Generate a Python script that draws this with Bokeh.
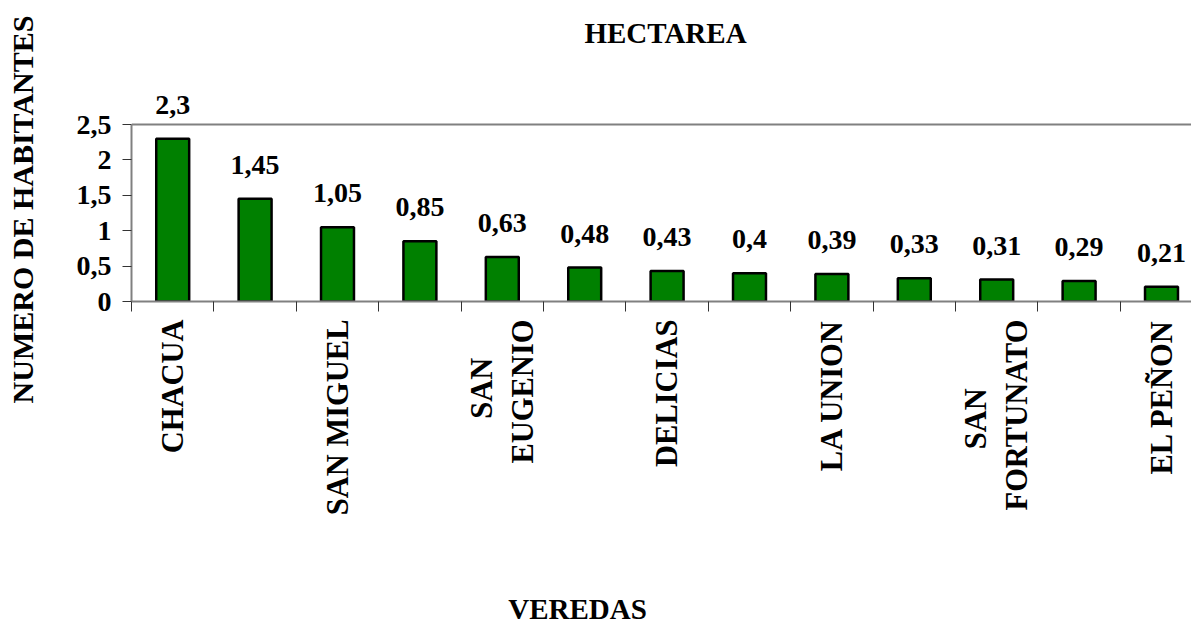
from bokeh.plotting import figure
from bokeh.models import (ColumnDataSource, Range1d, FixedTicker, LabelSet, Label, Span)
from bokeh.layouts import column, row
from bokeh.embed import file_html
from bokeh.resources import INLINE
import math

# ---- data ----
NB = "\u00a0"
categories = ["CHACUA", "", "SAN MIGUEL", "", "SAN" + NB * 5 + "\nEUGENIO", "", "DELICIAS", "",
              "LA UNION", "", "SAN" + NB * 9 + "\nFORTUNATO", "", "EL PEÑON"]
values = [2.3, 1.45, 1.05, 0.85, 0.63, 0.48, 0.43, 0.4, 0.39, 0.33, 0.31, 0.29, 0.21]
y_ticks = [0, 0.5, 1, 1.5, 2, 2.5]
y_tick_labels = ["0", "0,5", "1", "1,5", "2", "2,5"]
title_text = "HECTAREA"
y_title = "NUMERO DE HABITANTES"
x_title = "VEREDAS"

FONT = "Liberation Serif"

xs = list(range(1, len(values) + 1))
labels = [str(v).replace(".", ",") for v in values]
src = ColumnDataSource(dict(x=xs, top=values, lab=labels))

# ---- layout geometry (pixels) ----
W, H = 1191, 624
YW = 48            # width of the y-title strip
XH = 58            # height of the x-title strip
MW, MH = W - YW, H - XH
frame_left = 131   # page x of the value axis
y0_px, y25_px = 301, 124
px_per_unit = (y0_px - y25_px) / 2.5
cat_px = 82.4
frame_w = MW - (frame_left - YW)


def blank(width, height):
    f = figure(width=width, height=height, output_backend="svg", toolbar_location=None,
               x_axis_location=None, y_axis_location=None, tools="",
               min_border=0, x_range=Range1d(0, 1), y_range=Range1d(0, 1))
    f.min_border_left = f.min_border_right = f.min_border_top = f.min_border_bottom = 0
    f.grid.visible = False
    f.outline_line_color = None
    f.background_fill_color = "white"
    f.border_fill_color = "white"
    return f


# ---- main chart ----
p = figure(width=MW, height=MH, output_backend="svg", toolbar_location=None, tools="",
           x_range=Range1d(0.5, 0.5 + frame_w / cat_px),
           y_range=Range1d(0, y0_px / px_per_unit),
           min_border_left=frame_left - YW, min_border_top=0, min_border_right=0,
           min_border_bottom=MH - y0_px)
p.grid.visible = False
p.background_fill_color = "white"
p.border_fill_color = "white"
p.outline_line_color = None

p.vbar(x="x", top="top", width=0.4, bottom=0, source=src,
       fill_color="#008000", line_color="black", line_width=2.5)

p.add_layout(Span(location=y_ticks[-1], dimension="width", line_color="#808080", line_width=2))

xa = p.xaxis[0]
xa.ticker = FixedTicker(ticks=xs, minor_ticks=[x - 0.5 for x in xs] + [len(xs) + 0.5])
xa.major_label_overrides = {x: c for x, c in zip(xs, categories)}
xa.major_tick_line_color = None
xa.major_tick_out = 10
xa.major_tick_in = 0
xa.minor_tick_out = 10
xa.minor_tick_in = 0
xa.minor_tick_line_color = "#333333"
xa.axis_line_color = "#808080"
xa.axis_line_width = 2
xa.major_label_orientation = math.pi / 2
xa.major_label_standoff = 8
xa.major_label_text_font = FONT
xa.major_label_text_font_style = "bold"
xa.major_label_text_font_size = "30.5px"
xa.major_label_text_color = "black"

ya = p.yaxis[0]
ya.ticker = FixedTicker(ticks=y_ticks)
ya.bounds = (y_ticks[0], y_ticks[-1])
ya.major_label_overrides = {t: l for t, l in zip(y_ticks, y_tick_labels)}
ya.minor_tick_line_color = None
ya.major_tick_out = 9
ya.major_tick_in = 0
ya.major_tick_line_color = "#333333"
ya.axis_line_color = "#808080"
ya.axis_line_width = 2
ya.major_label_standoff = 11
ya.major_label_text_font = FONT
ya.major_label_text_font_style = "bold"
ya.major_label_text_font_size = "28px"
ya.major_label_text_color = "black"

p.add_layout(LabelSet(x="x", y="top", text="lab", source=src, y_offset=25,
                      text_align="center", text_baseline="alphabetic",
                      text_font=FONT, text_font_style="bold", text_font_size="28px",
                      text_color="black"))

p.add_layout(Label(x=665 - frame_left, y=y0_px - 32, x_units="screen", y_units="screen",
                   text=title_text, text_align="center", text_baseline="middle",
                   text_font=FONT, text_font_style="bold", text_font_size="29px",
                   text_color="black"))

# ---- y title strip ----
fy = blank(YW, MH)
fy.add_layout(Label(x=22, y=MH - 209, x_units="screen", y_units="screen", text=y_title,
                    angle=math.pi / 2, text_align="center", text_baseline="middle",
                    text_font=FONT, text_font_style="bold", text_font_size="30px",
                    text_color="black"))

# ---- x title strip ----
fx = blank(W, XH)
fx.add_layout(Label(x=577, y=H - 608, x_units="screen", y_units="screen", text=x_title,
                    text_align="center", text_baseline="middle",
                    text_font=FONT, text_font_style="bold", text_font_size="29px",
                    text_color="black"))

layout = column(row(column(fy, spacing=0), p, spacing=0), fx, spacing=0)
open("out.html", "w").write(file_html(layout, INLINE))
